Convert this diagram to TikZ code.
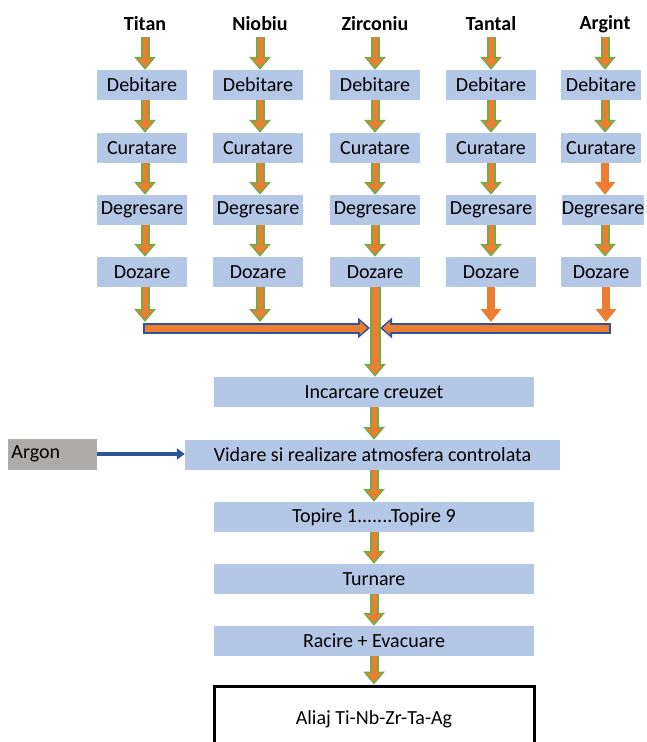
\documentclass[tikz,border=0pt]{standalone}
\usepackage{fontspec}
\setmainfont{Carlito}
\usetikzlibrary{arrows.meta}
\definecolor{boxblue}{HTML}{B4C7E7}
\definecolor{aorange}{HTML}{ED7D31}
\definecolor{ggreen}{HTML}{70AD47}
\definecolor{ablue}{HTML}{2F5597}
\definecolor{argray}{HTML}{AEABAB}
\tikzset{
  box/.style={fill=boxblue, minimum height=30pt, minimum width=90pt, inner sep=0pt, font=\fontsize{20}{24}\selectfont},
  argbox/.style={box, minimum width=80pt},
  wide/.style={box, minimum width=320pt},
  title/.style={inner sep=0pt, minimum height=26pt, font=\fontsize{20}{24}\selectfont\bfseries},
  grout/.style={draw=ggreen, line width=9pt, -{Triangle[width=21pt,length=13pt]}},
  grin/.style={draw=aorange, line width=5pt, -{Triangle[width=15pt,length=8.5pt]}, shorten >=2.8pt},
  orout/.style={draw=aorange, line width=8pt, -{Triangle[width=20pt,length=13pt]}},
  bout/.style={draw=ablue, line width=11pt, -{Triangle[width=20pt,length=12pt]}},
  bin/.style={draw=aorange, line width=7pt, -{Triangle[width=13pt,length=7.5pt]}, shorten >=2.6pt, shorten <=2pt},
  argarrow/.style={draw=ablue, line width=3.5pt, -{Triangle[width=11pt,length=8pt]}}
}
\newcommand\gflow[2]{\draw[grout] #1 -- #2; \draw[grin] #1 -- #2;}
\newcommand\oflow[2]{\draw[orout] #1 -- #2;}
\begin{document}
\begin{tikzpicture}[x=1pt,y=-1pt]
\useasboundingbox (0,0) rectangle (647,742);
% titles
\node[title] (t1) at (145,24) {Titan};
\node[title] (t2) at (260,24) {Niobiu};
\node[title] (t3) at (375,24) {Zirconiu};
\node[title] (t4) at (491,24) {Tantal};
\node[title] (t5) at (605,24) {Argint};
% rows
\foreach \c/\x in {1/142,2/258,3/375,4/491}{
  \node[box] (a\c) at (\x,85) {Debitare};
  \node[box] (b\c) at (\x,148) {Curatare};
  \node[box] (c\c) at (\x,210) {Degresare};
  \node[box] (d\c) at (\x,272) {Dozare};
}
\node[argbox] (a5) at (601,85) {Debitare};
\node[argbox] (b5) at (601,148) {Curatare};
\node[argbox] (c5) at (603,210) {Degresare};
\node[argbox] (d5) at (601,272) {Dozare};
% column arrows
\foreach \c in {1,...,5}{
  \gflow{(t\c.south)}{(t\c.south |- a\c.north)}
  \gflow{(t\c.south |- a\c.south)}{(t\c.south |- b\c.north)}
  \gflow{(t\c.south |- c\c.south)}{(t\c.south |- d\c.north)}
}
\foreach \c in {1,...,4}{
  \gflow{(t\c.south |- b\c.south)}{(t\c.south |- c\c.north)}
}
\oflow{(t5.south |- b5.south)}{(t5.south |- c5.north)}
% merge bar
\coordinate (mL) at (143,328);
\coordinate (mLt) at (370,328);
\coordinate (mR) at (611,328);
\coordinate (mRt) at (380,328);
\coordinate (barTop1) at (145,322);
\coordinate (barTop2) at (260,322);
\coordinate (barTop4) at (491,322);
\coordinate (barTop5) at (606,322);
\gflow{(d1.south -| barTop1)}{(barTop1)}
\gflow{(d2.south -| barTop2)}{(barTop2)}
\oflow{(d4.south -| barTop4)}{(barTop4)}
\oflow{(d5.south -| barTop5)}{(barTop5)}
\draw[bout] (mL) -- (mLt); \draw[bin] (mL) -- (mLt);
\draw[bout] (mR) -- (mRt); \draw[bin] (mR) -- (mRt);
% lower boxes
\node[wide] (inc) at (374,392) {Incarcare creuzet};
\node[box, minimum width=375pt] (vid) at (372.5,455) {Vidare si realizare atmosfera controlata};
\node[wide] (top) at (374,517) {Topire 1.......Topire 9};
\node[wide] (tur) at (374,579) {Turnare};
\node[wide] (rac) at (374,641) {Racire + Evacuare};
\node[draw=black, line width=3pt, fill=white, minimum width=320pt, minimum height=66pt, inner sep=0pt, font=\fontsize{20}{24}\selectfont] (ali) at (374,719) {Aliaj Ti-Nb-Zr-Ta-Ag};
\node[fill=argray, minimum height=31pt, text width=82pt, align=left, inner xsep=3.5pt, inner ysep=0pt, font=\fontsize{20}{24}\selectfont] (arg) at (52.5,454) {Argon};
% long Zirconiu arrow
\draw[grout, line width=11pt] (d3.south) -- (inc.north -| d3.south);
\draw[grin, line width=7pt] (d3.south) -- (inc.north -| d3.south);
\gflow{(inc.south)}{(inc.south |- vid.north)}
\gflow{(inc.south |- vid.south)}{(top.north)}
\gflow{(top.south)}{(tur.north)}
\gflow{(tur.south)}{(rac.north)}
\gflow{(rac.south)}{(ali.north)}
\draw[argarrow] (arg.east) -- (arg.east -| vid.west);
\end{tikzpicture}
\end{document}
